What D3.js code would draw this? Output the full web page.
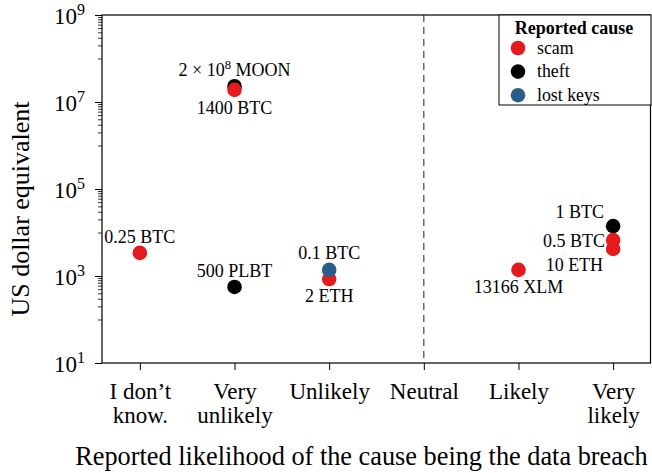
<!DOCTYPE html>
<html><head><meta charset="utf-8">
<script src="https://cdn.jsdelivr.net/npm/d3@7"></script>
<style>
html,body{margin:0;padding:0;background:#fff;}
svg{display:block;font-family:"Liberation Serif","Times New Roman",serif;}
</style></head>
<body>
<svg id="chart" width="652" height="473"></svg>
<script>
// ---- data ----
const categories = ["I don’t|know.", "Very|unlikely", "Unlikely", "Neutral", "Likely", "Very|likely"];
const causes = ["scam", "theft", "lost keys"];
const pointCategory = [0, 1, 1, 1, 2, 2, 4, 5, 5, 5];
const pointValue    = [3400, 2.3e7, 1.9e7, 560, 1380, 850, 1380, 14000, 6700, 4200];
const pointCause    = ["scam", "theft", "scam", "theft", "lost keys", "scam", "scam", "theft", "scam", "scam"];
const pointLabel    = ["0.25 BTC", "2 × 10^8 MOON", "1400 BTC", "500 PLBT", "0.1 BTC", "2 ETH", "13166 XLM", "1 BTC", "0.5 BTC", "10 ETH"];
const yMajorExp = [1, 3, 5, 7, 9];
const xLabel = "Reported likelihood of the cause being the data breach";
const yLabel = "US dollar equivalent";
const legendTitle = "Reported cause";

// ---- styles / layout ----
const colors = {"scam": "#e41a1c", "theft": "#000000", "lost keys": "#2a5d8a"};
const drawOrder = {"theft": 0, "scam": 1, "lost keys": 2};
const labelPlace = {
  "0.25 BTC": [0, -10, "middle"],
  "2 × 10^8 MOON": [0, -10, "middle"],
  "1400 BTC": [0, 24, "middle"],
  "500 PLBT": [0, -10, "middle"],
  "0.1 BTC": [0, -11, "middle"],
  "2 ETH": [0, 23, "middle"],
  "13166 XLM": [0, 23, "middle"],
  "1 BTC": [-9, -8, "end"],
  "0.5 BTC": [-8, 7, "end"],
  "10 ETH": [-10, 22, "end"]
};
const M = {left: 102, right: 651, top: 15, bottom: 363};
const svg = d3.select("#chart");

const x = d3.scaleLinear().domain([-0.4, 5.4]).range([M.left, M.right]);
const y = d3.scaleLog().domain([10, 1e9]).range([M.bottom, M.top]);

// neutral dashed line
svg.append("line")
  .attr("x1", x(3)).attr("x2", x(3)).attr("y1", M.top).attr("y2", M.bottom)
  .attr("stroke", "#333").attr("stroke-width", 1.1).attr("stroke-dasharray", "7,5");

// y minor ticks
const minor = [];
yMajorExp.slice(1).forEach(e => { for (let k = 1; k <= 9; k++) minor.push(k * Math.pow(10, e - 1)); });
svg.append("g").attr("transform", `translate(${M.left},0)`)
  .call(d3.axisLeft(y).tickValues(minor).tickSize(4).tickFormat(""))
  .call(g => g.select(".domain").remove())
  .call(g => g.selectAll("line").attr("stroke", "#000").attr("stroke-width", 0.8));

// y major ticks
const yAx = svg.append("g").attr("transform", `translate(${M.left},0)`)
  .call(d3.axisLeft(y).tickValues(yMajorExp.map(e => Math.pow(10, e))).tickSize(7).tickPadding(10).tickFormat(""))
  .call(g => g.select(".domain").remove())
  .call(g => g.selectAll("line").attr("stroke", "#000").attr("stroke-width", 1));
yAx.selectAll(".tick text").each(function(d) {
  const t = d3.select(this).attr("font-size", 23).attr("fill", "#000")
    .attr("font-family", "Liberation Serif").attr("dy", "0.35em").attr("text-anchor", "end");
  t.append("tspan").text("10");
  t.append("tspan").attr("font-size", 16).attr("dy", "-0.55em").text(Math.round(Math.log10(d)));
});

// x axis
const xAx = svg.append("g").attr("transform", `translate(0,${M.bottom})`)
  .call(d3.axisBottom(x).tickValues(d3.range(categories.length)).tickSize(7).tickFormat(""))
  .call(g => g.select(".domain").remove())
  .call(g => g.selectAll("line").attr("stroke", "#000").attr("stroke-width", 1));
xAx.selectAll(".tick text").each(function(d) {
  const t = d3.select(this).attr("font-size", 23).attr("fill", "#000")
    .attr("font-family", "Liberation Serif").attr("y", 0).attr("dy", 0);
  categories[d].split("|").forEach((s, i) => {
    t.append("tspan").attr("x", 0).attr("y", 36 + i * 24).text(s);
  });
});

// frame
svg.append("rect").attr("x", M.left).attr("y", M.top)
  .attr("width", M.right - M.left - 0.5).attr("height", M.bottom - M.top)
  .attr("fill", "none").attr("stroke", "#000").attr("stroke-width", 1.2);

// points
const pts = d3.range(pointValue.length).map(i => ({
  c: pointCategory[i], v: pointValue[i], cause: pointCause[i], label: pointLabel[i], i
})).sort((a, b) => drawOrder[a.cause] - drawOrder[b.cause] || a.i - b.i);

svg.append("g").selectAll("circle").data(pts).join("circle")
  .attr("cx", d => x(d.c)).attr("cy", d => y(d.v)).attr("r", 7.3)
  .attr("fill", d => colors[d.cause]);

// labels
const lab = svg.append("g").attr("font-size", 18).attr("fill", "#000");
pts.forEach(d => {
  const p = labelPlace[d.label];
  const t = lab.append("text").attr("x", x(d.c) + p[0]).attr("y", y(d.v) + p[1]).attr("text-anchor", p[2]);
  if (d.label.includes("^")) {
    const m = d.label.match(/^(.*)\^(\d+)(.*)$/);
    t.append("tspan").text(m[1]);
    t.append("tspan").attr("font-size", 12.5).attr("dy", -7).text(m[2]);
    t.append("tspan").attr("dy", 7).text(m[3]);
  } else t.text(d.label);
});

// axis labels
svg.append("text").attr("x", (75 + 648) / 2).attr("y", 465).attr("text-anchor", "middle")
  .attr("font-size", 26.3).text(xLabel);
svg.append("text").attr("transform", `translate(29,${209}) rotate(-90)`).attr("text-anchor", "middle")
  .attr("font-size", 26).text(yLabel);

// legend
const lg = svg.append("g");
lg.append("rect").attr("x", 499).attr("y", M.top).attr("width", 651 - 499).attr("height", 90)
  .attr("fill", "#fff").attr("stroke", "#000").attr("stroke-width", 1);
lg.append("text").attr("x", 574).attr("y", 34).attr("text-anchor", "middle")
  .attr("font-size", 18).attr("font-weight", "bold").text(legendTitle);
causes.forEach((c, i) => {
  const cy = 48 + i * 23.6;
  lg.append("circle").attr("cx", 518).attr("cy", cy).attr("r", 7.3).attr("fill", colors[c]);
  lg.append("text").attr("x", 537).attr("y", cy + 5.5).attr("font-size", 17.8).text(c);
});
</script>
</body></html>
